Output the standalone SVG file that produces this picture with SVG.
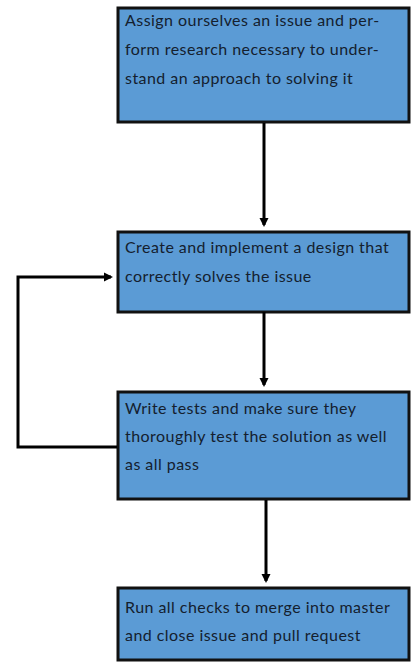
<svg xmlns="http://www.w3.org/2000/svg" width="412" height="663" viewBox="0 0 412 663">
<style>
.box{fill:#5b9bd5;stroke:#111;stroke-width:3}
.t{font-family:Lato,"Liberation Sans",sans-serif;font-size:16px;letter-spacing:0.45px;fill:#14202e}
.c{fill:none;stroke:#000;stroke-width:3}
</style>
<defs>
<marker id="ah" markerWidth="10" markerHeight="10" refX="7" refY="5" orient="auto" markerUnits="userSpaceOnUse">
<path d="M0,0.5 L9,5 L0,9.5 Z" fill="#000"/>
</marker>
</defs>
<rect width="412" height="663" fill="#fff"/>
<g id="n1">
<rect class="box" x="118" y="8" width="291" height="114"/>
<text class="t" x="125" y="26">Assign ourselves an issue and per-</text>
<text class="t" x="125" y="55">form research necessary to under-</text>
<text class="t" x="125" y="84">stand an approach to solving it</text>
</g>
<g id="n2">
<rect class="box" x="118" y="232" width="291" height="80"/>
<text class="t" x="125" y="253">Create and implement a design that</text>
<text class="t" x="125" y="282">correctly solves the issue</text>
</g>
<g id="n3">
<rect class="box" x="118" y="392" width="291" height="107"/>
<text class="t" x="125" y="414">Write tests and make sure they</text>
<text class="t" x="125" y="442">thoroughly test the solution as well</text>
<text class="t" x="125" y="470">as all pass</text>
</g>
<g id="n4">
<rect class="box" x="118" y="588" width="291" height="72"/>
<text class="t" x="125" y="613">Run all checks to merge into master</text>
<text class="t" x="125" y="641">and close issue and pull request</text>
</g>
<g id="connectors">
<path class="c" d="M264,123 V225" marker-end="url(#ah)"/>
<path class="c" d="M264,312 V385" marker-end="url(#ah)"/>
<path class="c" d="M266,500 V581" marker-end="url(#ah)"/>
<path class="c" d="M117,447 H18 V277 H111" marker-end="url(#ah)"/>
</g>
</svg>
